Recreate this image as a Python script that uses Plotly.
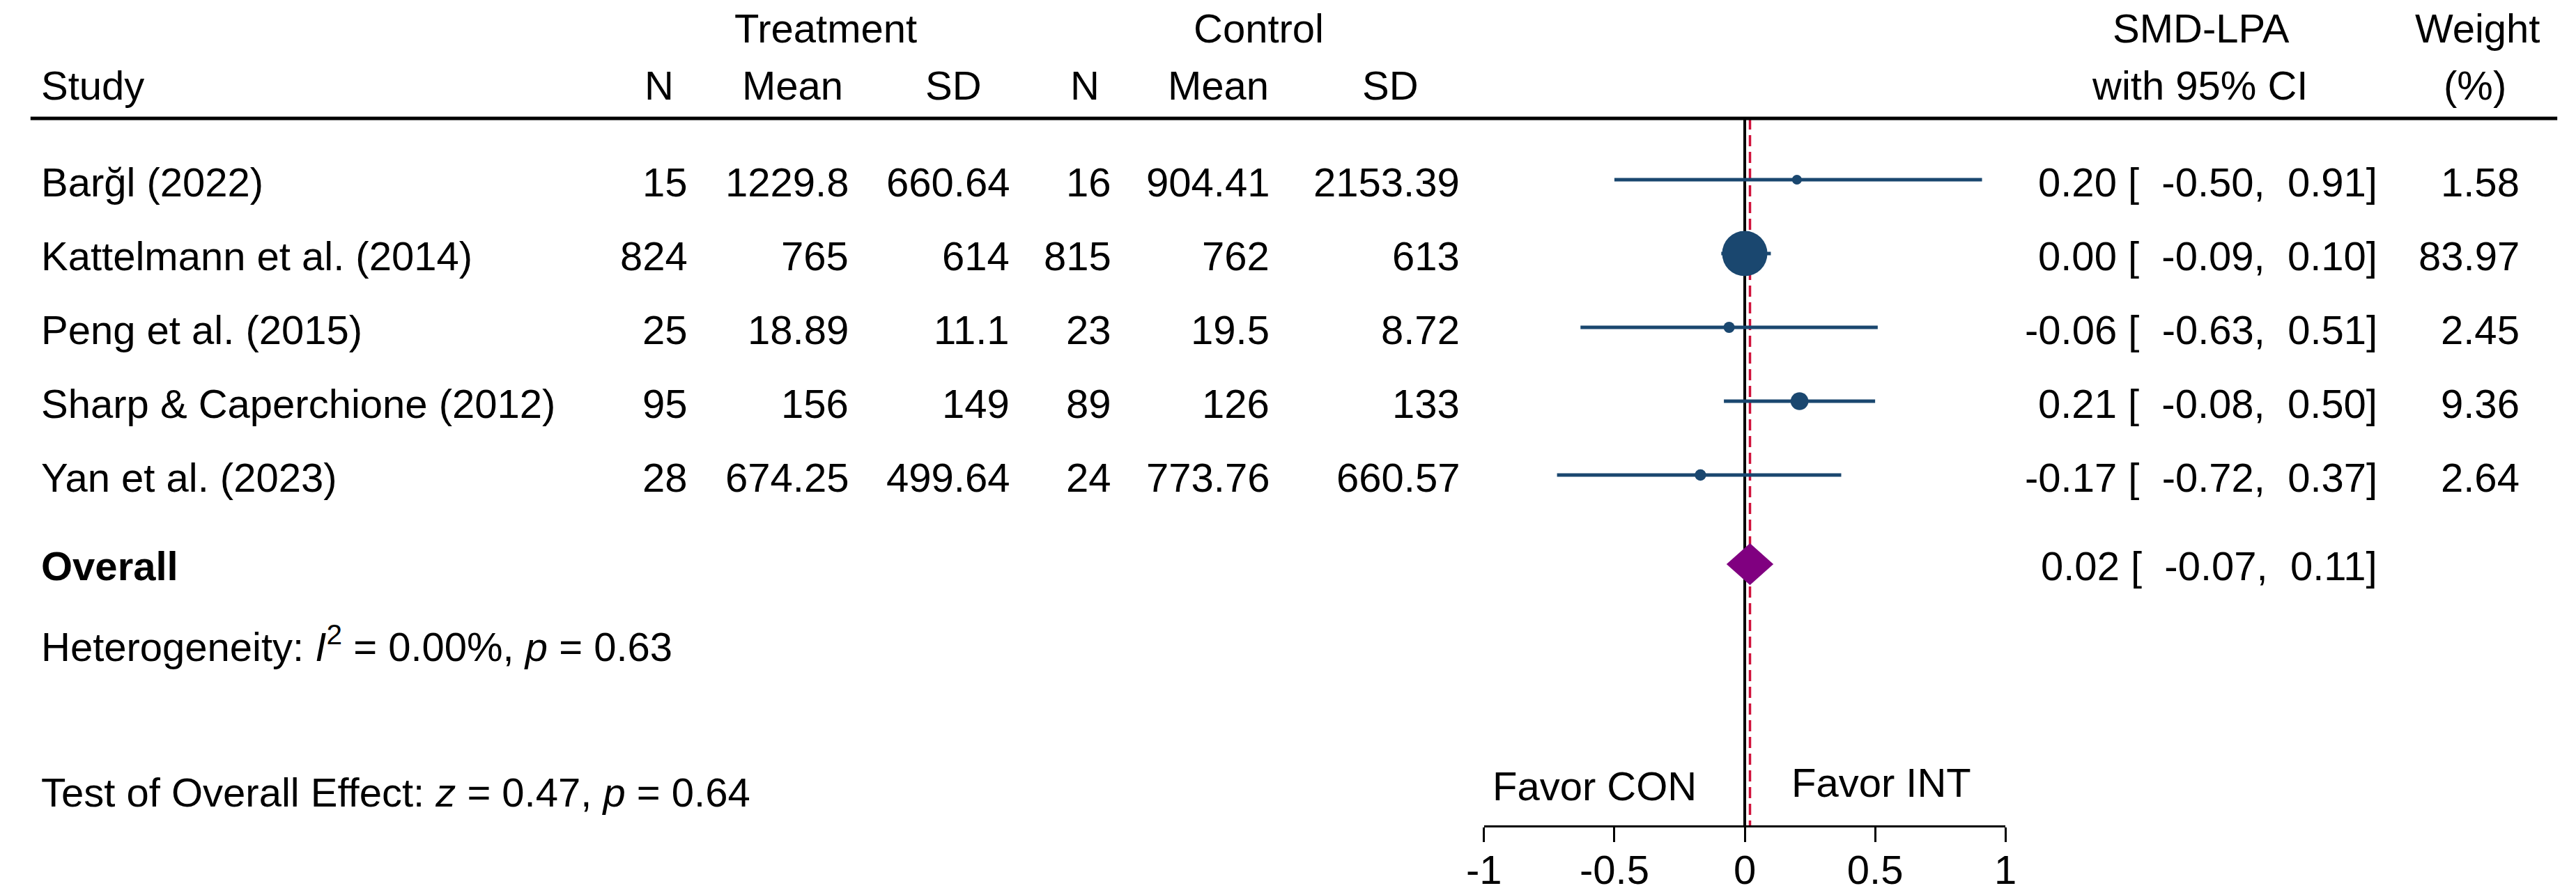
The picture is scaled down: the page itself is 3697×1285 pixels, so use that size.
import plotly.graph_objects as go

# ---------------- data ----------------
studies = ["Barğl (2022)", "Kattelmann et al. (2014)", "Peng et al. (2015)",
           "Sharp & Caperchione (2012)", "Yan et al. (2023)"]
trt_n = [15, 824, 25, 95, 28]
trt_mean = [1229.8, 765, 18.89, 156, 674.25]
trt_sd = [660.64, 614, 11.1, 149, 499.64]
ctl_n = [16, 815, 23, 89, 24]
ctl_mean = [904.41, 762, 19.5, 126, 773.76]
ctl_sd = [2153.39, 613, 8.72, 133, 660.57]
smd = [0.20, 0.00, -0.06, 0.21, -0.17]
ci_low = [-0.50, -0.09, -0.63, -0.08, -0.72]
ci_high = [0.91, 0.10, 0.51, 0.50, 0.37]
weight = [1.58, 83.97, 2.45, 9.36, 2.64]
overall_smd = 0.02
overall_low = -0.07
overall_high = 0.11
i2_pct = 0.00
het_p = 0.63
z_val = 0.47
z_p = 0.64
x_ticks = [-1, -0.5, 0, 0.5, 1]
x_tick_labels = ["-1", "-0.5", "0", "0.5", "1"]

# ---------------- layout constants ----------------
W, H = 3697, 1285
FONT = "Liberation Sans, Arial, Helvetica, sans-serif"
FS = 58
NAVY = "#1A476F"
PURPLE = "#800080"
RED = "#D0103A"
ROW0_PX, ROW_STEP_PX = 258, 106
RULE_PX = 170
AXIS_PX = 1186
X_LEFT_PX, X_RIGHT_PX = 2128, 2885


def px_x(v):
    return v / W


def px_y(v):
    return 1 - v / H


def row_of(v_px):
    return (v_px - ROW0_PX) / ROW_STEP_PX


annotations = []


def add_text(text, x_px, y, yref="paper", xanchor="center", yshift=0, size=FS):
    annotations.append(dict(
        text=text, x=px_x(x_px), xref="paper", y=y, yref=yref,
        xanchor=xanchor, yanchor="middle", showarrow=False, yshift=yshift,
        borderpad=0, font=dict(family=FONT, size=size, color="black")))


# headers
for txt, cx in [("Treatment", 1172), ("Control", 1801), ("SMD-LPA", 3169), ("Weight", 3570)]:
    add_text(txt, cx, px_y(40))
add_text("Study", 32, px_y(123), xanchor="left")
for txt, cx in [("N", 931), ("Mean", 1124), ("SD", 1358), ("N", 1549), ("Mean", 1742),
                ("SD", 1992), ("with 95% CI", 3167), ("(%)", 3567)]:
    add_text(txt, cx, px_y(123))

# study rows
NB = "\u00a0"
col_right = [973, 1207, 1440, 1588, 1818, 2094]
for i, name in enumerate(studies):
    add_text(name, 32, i, yref="y", xanchor="left", yshift=-3)
    vals = [trt_n[i], trt_mean[i], trt_sd[i], ctl_n[i], ctl_mean[i], ctl_sd[i]]
    for v, xr in zip(vals, col_right):
        add_text(str(v), xr, i, yref="y", xanchor="right", yshift=-3)
    ci_txt = f"{smd[i]:.2f} [{NB*2}{ci_low[i]:.2f},{NB*2}{ci_high[i]:.2f}]"
    add_text(ci_txt, 3426, i, yref="y", xanchor="right", yshift=-3)
    add_text(f"{weight[i]:.2f}", 3632, i, yref="y", xanchor="right", yshift=-3)

overall_row = row_of(810)
add_text("<b>Overall</b>", 32, overall_row, yref="y", xanchor="left", yshift=-2)
add_text(f"{overall_smd:.2f} [{NB*2}{overall_low:.2f},{NB*2}{overall_high:.2f}]",
         3426, overall_row, yref="y", xanchor="right", yshift=-2)
add_text(f"Heterogeneity: <i>I</i><sup>2</sup> = {i2_pct:.2f}%, <i>p</i> = {het_p:.2f}",
         32, px_y(924), xanchor="left")
add_text(f"Test of Overall Effect: <i>z</i> = {z_val:.2f}, <i>p</i> = {z_p:.2f}",
         32, px_y(1137), xanchor="left")
add_text("Favor CON", 2289, px_y(1128))
add_text("Favor INT", 2705, px_y(1123))

# ---------------- traces ----------------
fig = go.Figure()
for i in range(len(studies)):
    fig.add_trace(go.Scatter(x=[ci_low[i], ci_high[i]], y=[i, i], mode="lines",
                             line=dict(color=NAVY, width=5), hoverinfo="skip",
                             showlegend=False))
fig.add_trace(go.Scatter(
    x=smd, y=list(range(len(studies))), mode="markers",
    marker=dict(color=NAVY, opacity=1, size=[5.9 + 6.45 * w ** 0.5 for w in weight],
                symbol="circle", line=dict(width=0)),
    showlegend=False, hoverinfo="skip"))
half_h = 30 / ROW_STEP_PX
fig.add_trace(go.Scatter(
    x=[overall_low, overall_smd, overall_high, overall_smd, overall_low],
    y=[overall_row, overall_row - half_h, overall_row, overall_row + half_h, overall_row],
    mode="lines", fill="toself", fillcolor=PURPLE, line=dict(color=PURPLE, width=0),
    showlegend=False, hoverinfo="skip"))

shapes = [
    dict(type="line", xref="paper", yref="paper", x0=px_x(18), x1=px_x(3686),
         y0=px_y(RULE_PX), y1=px_y(RULE_PX), line=dict(color="black", width=5)),
    dict(type="line", xref="x", yref="paper", x0=0, x1=0,
         y0=px_y(RULE_PX), y1=px_y(AXIS_PX), line=dict(color="black", width=4),
         layer="below"),
    dict(type="line", xref="x", yref="paper", x0=overall_smd, x1=overall_smd,
         y0=px_y(RULE_PX), y1=px_y(AXIS_PX),
         line=dict(color=RED, width=3.5, dash="16px,8px"), layer="below"),
]

fig.update_layout(
    width=W, height=H, margin=dict(l=0, r=0, t=0, b=0),
    paper_bgcolor="white", plot_bgcolor="rgba(0,0,0,0)",
    font=dict(family=FONT, size=FS, color="black"),
    annotations=annotations, shapes=shapes, showlegend=False,
    xaxis=dict(domain=[px_x(X_LEFT_PX), px_x(X_RIGHT_PX)], range=[-1, 1],
               anchor="free", position=px_y(AXIS_PX),
               showline=True, linecolor="black", linewidth=3,
               ticks="outside", ticklen=21, tickwidth=3, tickcolor="black",
               tickvals=x_ticks, ticktext=x_tick_labels, ticklabelstandoff=-10,
               tickfont=dict(family=FONT, size=FS, color="black"),
               showgrid=False, zeroline=False, fixedrange=True),
    yaxis=dict(domain=[0, 1], range=[row_of(H), row_of(0)], visible=False,
               showgrid=False, zeroline=False, fixedrange=True),
)

fig.write_html("out.html",
               config={"displayModeBar": False, "staticPlot": True},
               post_script="document.body.style.margin='0px';"
                           "document.body.style.overflow='hidden';")
